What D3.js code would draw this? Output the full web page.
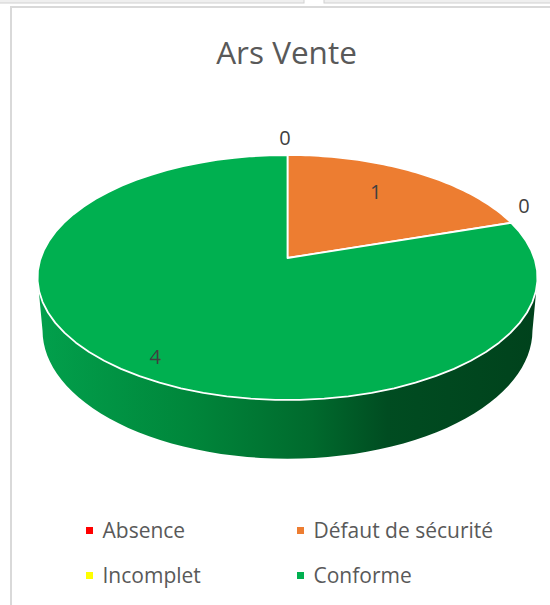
<!DOCTYPE html>
<html>
<head>
<meta charset="utf-8">
<script src="https://cdn.jsdelivr.net/npm/d3@7"></script>
<style>
  body { margin: 0; background: #fff; }
  svg { display: block; font-family: 'Open Sans', sans-serif; }
</style>
</head>
<body>
<script>
const title = 'Ars Vente';
const categories = ['Absence', 'Défaut de sécurité', 'Incomplet', 'Conforme'];
const values = [0, 1, 0, 4];
const colors = ['#ff0000', '#ed7d31', '#ffff00', '#00b050'];

const w = 550,
  h = 605;

// 3d pie projection (perspective tilted disc)
const cx = 287.5,
  cy = 258,
  A = 246.8,
  B = 119.4,
  k = 0.159,
  m = 0.02,
  depth = 53.4;

function project(a, r, level) {
  const u = Math.sin(a) * r,
    v = -Math.cos(a) * r;
  const q = 1 - k * v + m * level;
  return [cx + (A * u) / q, cy + (B * v + depth * level) / q];
}

const data = categories.map((c, i) => ({ name: c, value: values[i], color: colors[i] }));
const arcs = d3.pie().sort(null).value(d => d.value)(data);

const svg = d3
  .select('body')
  .append('svg')
  .attr('width', w)
  .attr('height', h);

// bits of neighbouring cells at the top
svg.append('rect').attr('x', -2).attr('y', -10).attr('width', 306).attr('height', 13)
  .attr('fill', '#efefef').attr('stroke', '#d0d0d0');
svg.append('rect').attr('x', 324).attr('y', -10).attr('width', 240).attr('height', 13)
  .attr('fill', '#efefef').attr('stroke', '#d0d0d0');

// chart frame
svg.append('rect').attr('x', 11).attr('y', 7).attr('width', 600).attr('height', 700)
  .attr('fill', '#fff').attr('stroke', '#d9d9d9').attr('stroke-width', 2);

const defs = svg.append('defs');
const grad = defs.append('linearGradient').attr('id', 'sideGrad')
  .attr('gradientUnits', 'userSpaceOnUse')
  .attr('x1', 37).attr('x2', 538).attr('y1', 0).attr('y2', 0);
[[0, '#02a04c'], [0.3, '#00873b'], [0.55, '#006a2d'], [0.7, '#004c21'], [1, '#00421c']]
  .forEach(s => grad.append('stop').attr('offset', s[0]).attr('stop-color', s[1]));

const line = d3.line();
const rim = (a0, a1, level) =>
  d3.range(0, 61).map(i => project(a0 + ((a1 - a0) * i) / 60, 1, level));

// front side: visible between the two silhouette angles
const aR = Math.acos(-k),
  aL = 2 * Math.PI - aR;
svg.append('g').selectAll('path')
  .data(arcs.filter(d => Math.min(d.endAngle, aL) > Math.max(d.startAngle, aR)))
  .enter()
  .append('path')
  .attr('d', d => {
    const a0 = Math.max(d.startAngle, aR),
      a1 = Math.min(d.endAngle, aL);
    return line(rim(a0, a1, 0).concat(rim(a1, a0, 1))) + 'Z';
  })
  .attr('fill', 'url(#sideGrad)');

// top face
svg.append('g').selectAll('path')
  .data(arcs.filter(d => d.value > 0))
  .enter()
  .append('path')
  .attr('d', d => line([project(0, 0, 0)].concat(rim(d.startAngle, d.endAngle, 0))) + 'Z')
  .attr('fill', d => d.data.color)
  .attr('stroke', '#fff')
  .attr('stroke-width', 1.8)
  .attr('stroke-linejoin', 'round');

// data labels
svg.append('g').selectAll('text')
  .data(arcs)
  .enter()
  .append('text')
  .attr('transform', d => {
    let p;
    if (d.value === 0) {
      const a = d.startAngle;
      p = project(a, 1, 0);
      p = [p[0] + 16 * Math.sin(a) - 2.5, p[1] - 17];
    } else {
      const span = d.endAngle - d.startAngle;
      const a = (d.startAngle + d.endAngle) / 2 - (3 * Math.PI) / 180;
      p = project(a, span > Math.PI ? 0.87 : 0.72, 0);
    }
    return `translate(${p[0]},${p[1]})`;
  })
  .attr('text-anchor', 'middle')
  .attr('dy', '0.36em')
  .attr('font-size', 20)
  .attr('fill', '#404040')
  .text(d => d.value);

// title
svg.append('text')
  .attr('x', 286.5)
  .attr('y', 63.5)
  .attr('text-anchor', 'middle')
  .attr('font-size', 31.5)
  .attr('fill', '#595959')
  .text(title);

// legend
const colX = d3.scaleOrdinal().domain([0, 1]).range([86, 297]);
const rowY = d3.scaleOrdinal().domain([0, 1]).range([538, 583]);
const item = svg.append('g').selectAll('g')
  .data(data)
  .enter()
  .append('g')
  .attr('transform', (d, i) => `translate(${colX(i % 2)},${rowY(Math.floor(i / 2))})`);
item.append('rect')
  .attr('x', 0).attr('y', -11)
  .attr('width', 7).attr('height', 7)
  .attr('fill', d => d.color);
item.append('text')
  .attr('x', 16.5)
  .attr('font-size', 21)
  .attr('fill', '#595959')
  .text(d => d.name);
</script>
</body>
</html>
